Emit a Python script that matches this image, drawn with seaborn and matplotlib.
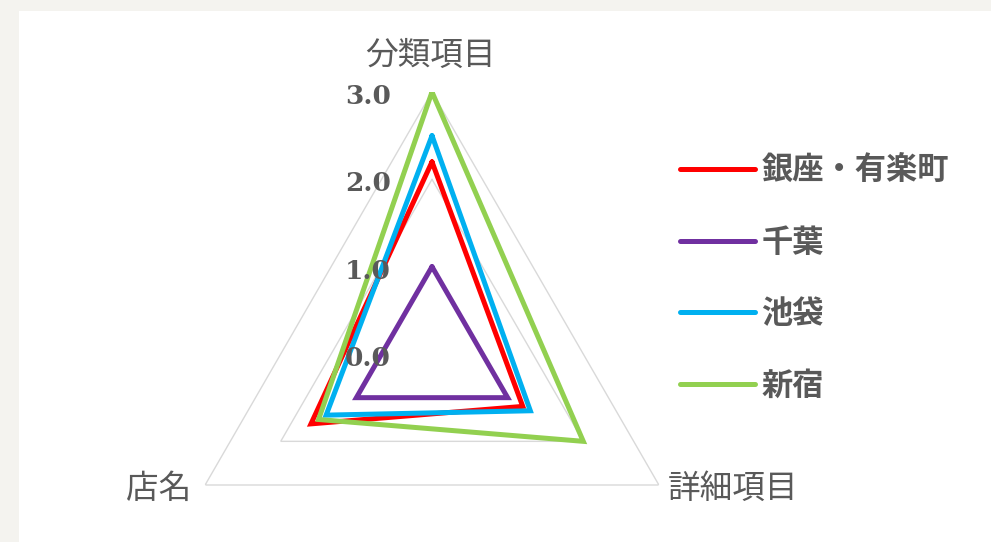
import numpy as np
import pandas as pd
import matplotlib
matplotlib.use("Agg")
import matplotlib.pyplot as plt
import seaborn as sns
from matplotlib.font_manager import FontProperties
from matplotlib.patches import Rectangle

# ---- data ----
axes_labels = ["分類項目", "詳細項目", "店名"]
series_names = ["銀座・有楽町", "千葉", "池袋", "新宿"]
ginza = [2.2, 1.2, 1.6]
chiba = [1.0, 1.0, 1.0]
ikebukuro = [2.5, 1.3, 1.4]
shinjuku = [3.0, 2.0, 1.5]
tick_values = [0.0, 1.0, 2.0, 3.0]
colors = ["#ff0000", "#7030a0", "#00b0f0", "#92d050"]

values = [ginza, chiba, ikebukuro, shinjuku]
n = len(axes_labels)
angles = [2 * np.pi * i / n for i in range(n)]
angles_closed = angles + [2 * np.pi]

rows = []
for name, vals in zip(series_names, values):
    for th, v in zip(angles_closed, vals + [vals[0]]):
        rows.append({"series": name, "theta": th, "r": v})
df = pd.DataFrame(rows)

sns.set_theme(style="white")
plt.rcParams["font.family"] = ["Noto Sans CJK JP", "DejaVu Sans"]

W, H = 991, 542
fig = plt.figure(figsize=(W / 100, H / 100), dpi=100)
fig.patch.set_facecolor("#f4f3ef")
fig.add_artist(Rectangle((19 / W, 0), 1 - 19 / W, (H - 11) / H,
                         transform=fig.transFigure, facecolor="white",
                         edgecolor="none", zorder=0))

cx, cy, R = 432, 354, 262
ax = fig.add_axes([(cx - R) / W, (H - cy - R) / H, 2 * R / W, 2 * R / H],
                  projection="polar")
ax.set_facecolor("none")
ax.set_theta_offset(np.pi / 2)
ax.set_theta_direction(-1)
ax.set_ylim(0, 3)
ax.grid(False)
ax.spines["polar"].set_visible(False)

# triangular gridlines
for t in tick_values[1:]:
    ax.plot(angles_closed, [t] * (n + 1), color="#d9d9d9", lw=1.0, zorder=1)

sns.lineplot(data=df, x="theta", y="r", hue="series", palette=colors,
             hue_order=series_names, sort=False, estimator=None,
             lw=3.6, ax=ax, zorder=3)
for ln in ax.get_lines():
    ln.set_solid_joinstyle("miter")

ax.set_xticks([])
ax.set_yticks([])
ax.set_xlabel("")
ax.set_ylabel("")

# radial value labels
for t in tick_values:
    ax.annotate(f"{t:.1f}", xy=(0, t), xytext=(-29.5, -3.3),
                textcoords="offset points", ha="right", va="center",
                fontfamily="DejaVu Serif", fontweight="bold", fontsize=19,
                color="#595959", zorder=5)

# category labels
label_pos = [(430, 56), (733, 489), (159, 489)]
for lab, (px, py) in zip(axes_labels, label_pos):
    fig.text(px / W, 1 - py / H, lab, ha="center", va="center",
             fontsize=23.5, color="#595959",
             family=["Noto Sans CJK JP", "DejaVu Sans"])

handles, labels = ax.get_legend_handles_labels()
if ax.get_legend() is not None:
    ax.get_legend().remove()
fig.legend(handles, labels, loc="upper left",
           bbox_to_anchor=(680 / W, 1 - 155 / H), frameon=False,
           prop=FontProperties(family=["Noto Sans CJK JP", "DejaVu Sans"],
                               weight="bold", size=22.5),
           labelcolor="#595959", handlelength=2.4, handletextpad=0.2,
           labelspacing=1.27, borderpad=0, borderaxespad=0)

fig.savefig("out.png", dpi=100)
